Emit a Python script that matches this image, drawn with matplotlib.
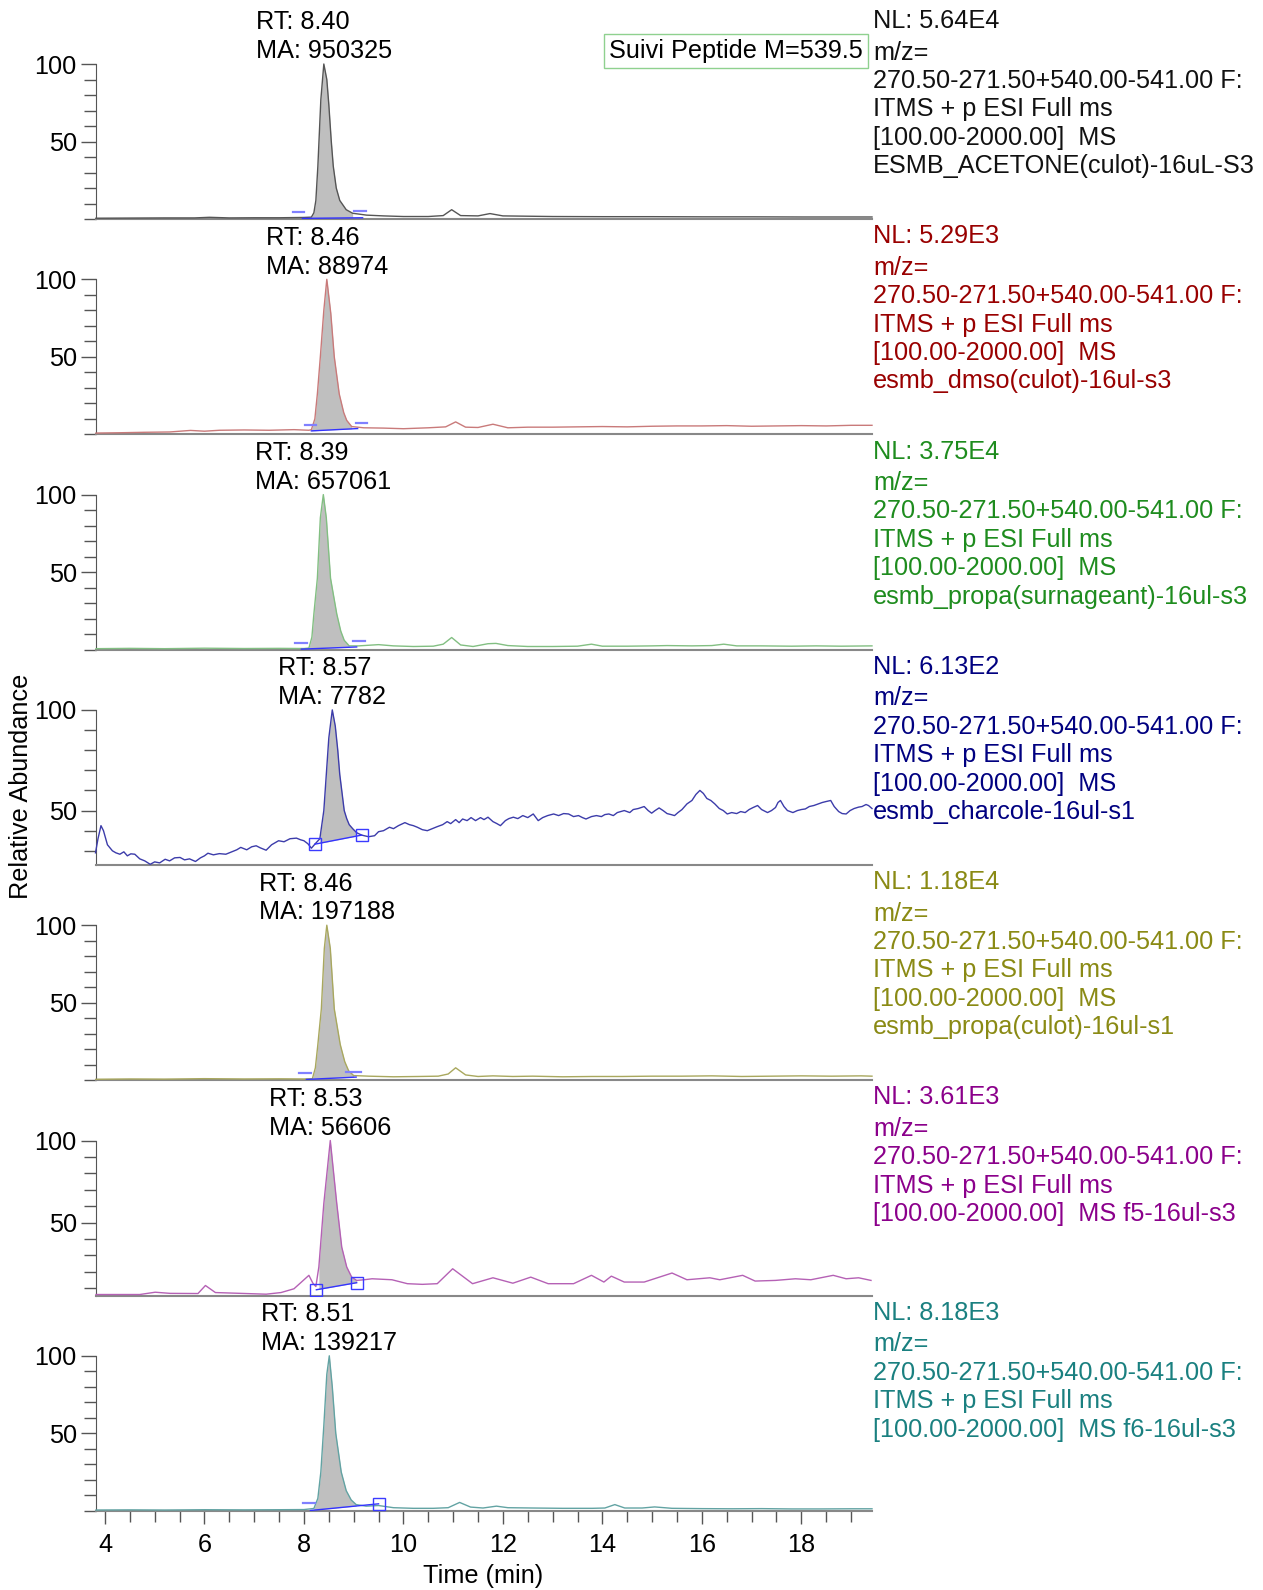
import numpy as np
import matplotlib.pyplot as plt
from matplotlib.ticker import MultipleLocator, FixedLocator

plt.rcParams['font.family'] = ['Liberation Sans', 'DejaVu Sans']

# peak info per trace
rt_values = [8.40, 8.46, 8.39, 8.57, 8.46, 8.53, 8.51]
ma_values = [950325, 88974, 657061, 7782, 197188, 56606, 139217]
nl_values = ['5.64E4', '5.29E3', '3.75E4', '6.13E2', '1.18E4', '3.61E3', '8.18E3']
samples = ['ESMB_ACETONE(culot)-16uL-S3', 'esmb_dmso(culot)-16ul-s3',
           'esmb_propa(surnageant)-16ul-s3', 'esmb_charcole-16ul-s1',
           'esmb_propa(culot)-16ul-s1', 'f5-16ul-s3', 'f6-16ul-s3']
same_line = [False, False, False, False, False, True, True]
header = ['m/z=', '270.50-271.50+540.00-541.00 F:', 'ITMS + p ESI Full ms',
          '[100.00-2000.00]  MS']

# traces (time in min, relative abundance)
t1 = [3.82, 4.5, 5.2, 5.8, 6.1, 6.5, 7.0, 7.5, 8.0, 8.15, 8.20, 8.24, 8.28, 8.34, 8.40,
      8.46, 8.50, 8.55, 8.59, 8.65, 8.72, 8.85, 8.98, 9.26, 9.6, 10.0, 10.5, 10.8, 10.97,
      11.15, 11.5, 11.74, 12.0, 12.5, 13.0, 14.0, 15.0, 16.0, 17.0, 18.0, 19.0, 19.42]
y1 = [0.5, 0.6, 0.7, 0.7, 1.1, 0.7, 0.8, 0.8, 1.0, 1.2, 4, 12, 34, 77, 100,
      90, 74, 50, 34, 20, 12, 6, 3.7, 2.5, 2.0, 1.6, 1.6, 2.2, 6.0,
      2.2, 2.0, 3.5, 2.0, 1.8, 1.6, 1.5, 1.5, 1.4, 1.4, 1.3, 1.3, 1.3]

t2 = [3.82, 4.3, 4.8, 5.3, 5.72, 6.0, 6.3, 6.8, 7.3, 7.8, 8.1, 8.15, 8.22, 8.27, 8.33,
      8.40, 8.46, 8.54, 8.61, 8.71, 8.80, 8.86, 8.96, 9.2, 9.6, 10.0, 10.5, 10.85, 11.05,
      11.25, 11.5, 11.8, 12.1, 12.5, 13, 13.5, 14, 14.5, 15, 15.5, 16, 16.5, 17, 17.5,
      18, 18.5, 19, 19.42]
y2 = [0.8, 1.0, 1.3, 1.5, 2.5, 2.0, 2.6, 2.8, 2.6, 3.0, 2.6, 3.0, 10, 26, 50,
      80, 100, 78, 50, 26, 14, 9, 5, 4.2, 4.0, 3.6, 4.2, 4.8, 8,
      4.6, 4.4, 6.5, 4.2, 4.6, 4.6, 4.8, 5.0, 4.8, 5.2, 5.4, 5.4, 5.6, 5.2, 5.4,
      5.6, 5.4, 5.8, 5.8]

t3 = [3.82, 4.5, 5.2, 6.0, 6.8, 7.5, 8.0, 8.10, 8.16, 8.20, 8.27, 8.33, 8.39, 8.45,
      8.535, 8.66, 8.74, 8.81, 8.91, 9.1, 9.5, 9.8, 10.2, 10.6, 10.8, 10.97, 11.15, 11.4,
      11.7, 11.86, 12.1, 12.5, 13.0, 13.5, 13.78, 14.0, 14.5, 15.0, 15.3, 15.8, 16.2,
      16.44, 16.7, 17.2, 17.8, 18.3, 18.8, 19.42]
y3 = [0.6, 0.8, 0.6, 0.9, 0.7, 0.8, 0.7, 1.0, 8, 23, 46, 85, 100, 85,
      46, 23, 12, 6, 2.4, 2.4, 3.2, 2.4, 2.0, 2.2, 3.5, 7.8, 3.0, 2.0,
      3.8, 4.0, 2.6, 2.0, 2.0, 2.2, 3.5, 2.2, 2.2, 2.4, 2.6, 2.4, 2.6,
      3.5, 2.4, 2.4, 2.2, 2.4, 2.2, 2.4]

t4 = [3.81, 3.86, 3.92, 3.97, 4.05, 4.15, 4.22, 4.30, 4.38, 4.45, 4.52, 4.60, 4.70, 4.80,
      4.91, 5.00, 5.10, 5.21, 5.30, 5.40, 5.51, 5.60, 5.70, 5.82, 5.92, 6.00, 6.07, 6.18,
      6.30, 6.43, 6.55, 6.65, 6.73, 6.85, 6.95, 7.04, 7.12, 7.24, 7.35, 7.49, 7.60, 7.72,
      7.85, 7.93, 8.00, 8.08, 8.15, 8.22, 8.32, 8.40, 8.45, 8.50, 8.57, 8.63, 8.68, 8.72,
      8.77, 8.81, 8.86, 8.91, 8.98, 9.06, 9.16, 9.21, 9.30, 9.42, 9.50, 9.60, 9.72, 9.80,
      9.90, 10.03, 10.12, 10.20, 10.28, 10.38, 10.48, 10.58, 10.68, 10.79, 10.88, 10.95,
      11.05, 11.12, 11.19, 11.28, 11.36, 11.45, 11.55, 11.62, 11.70, 11.80, 11.88, 11.95,
      12.05, 12.12, 12.21, 12.30, 12.40, 12.50, 12.61, 12.71, 12.80, 12.90, 13.02, 13.12,
      13.22, 13.32, 13.42, 13.52, 13.60, 13.67, 13.78, 13.88, 13.98, 14.05, 14.13, 14.22,
      14.30, 14.44, 14.55, 14.62, 14.72, 14.84, 14.92, 14.99, 15.06, 15.14, 15.22, 15.30,
      15.38, 15.45, 15.52, 15.60, 15.70, 15.80, 15.88, 15.96, 16.03, 16.10, 16.18, 16.26,
      16.35, 16.43, 16.51, 16.60, 16.70, 16.78, 16.87, 16.95, 17.03, 17.12, 17.20, 17.28,
      17.32, 17.40, 17.48, 17.53, 17.58, 17.65, 17.72, 17.83, 17.92, 18.00, 18.08, 18.16,
      18.25, 18.34, 18.42, 18.50, 18.59, 18.66, 18.75, 18.82, 18.90, 18.98, 19.06, 19.15,
      19.22, 19.30, 19.35, 19.42]
y4 = [29, 36, 42.5, 40, 33, 30, 29, 28.3, 29.5, 27.5, 28.5, 28.3, 26, 25,
      23.3, 24.5, 24, 25.8, 25, 26.5, 26.7, 25.5, 26, 24.7, 26.5, 27.5, 28.8, 28,
      28.6, 28.3, 29.5, 30.5, 31.7, 30.5, 32, 32.5, 31.5, 30.3, 33, 35, 34.5, 36,
      36.3, 35.5, 35, 33.5, 31.3, 33.3, 36, 50, 68, 86, 100, 92, 80, 68,
      58, 50, 46, 43, 41, 39, 37.8, 37.5, 37, 37.5, 39.5, 40, 41.7, 41,
      42.5, 44, 43, 42.5, 41.7, 40.5, 40, 41, 42, 43, 44.5, 43.5,
      45.5, 44, 45.8, 45, 46.5, 45, 46.5, 45.5, 46.7, 44.5, 43.5, 42.5,
      45, 46, 46.7, 46, 47.5, 46.5, 48.3, 45, 46.5, 47.5, 48.3, 47.5,
      48.5, 48.3, 47, 47.5, 46.5, 45.8, 47, 47.5, 47, 48, 48.3, 47.5,
      49, 50, 49, 50.5, 51, 52, 50, 48.7, 50, 51.3, 50, 48.5,
      48, 47.5, 49, 50.5, 53.3, 55, 58, 60, 58.5, 56, 55, 53.3,
      51, 50, 48.3, 49, 48.5, 49.5, 49, 50.5, 51.5, 52.5, 50.5, 49.5,
      49, 50, 51.5, 54, 55, 52, 50, 49, 50, 50.5, 50.8, 52,
      52.5, 53.3, 54, 54.5, 55, 52, 49.5, 48.5, 48.3, 50, 51, 51.7,
      52, 53, 52.5, 51]

t5 = [3.82, 4.5, 5.2, 6.0, 6.8, 7.5, 8.0, 8.17, 8.23, 8.28, 8.35, 8.41, 8.46, 8.53,
      8.61, 8.73, 8.82, 8.90, 9.0, 9.3, 9.8, 10.3, 10.7, 10.9, 11.05, 11.25, 11.5, 11.8,
      12.2, 12.6, 13.2, 13.8, 14.4, 15.0, 15.6, 16.2, 16.8, 17.4, 18.0, 18.6, 19.2, 19.42]
y5 = [0.6, 0.8, 0.7, 1.0, 0.8, 0.9, 0.8, 1.0, 8, 23, 46, 85, 100, 85,
      46, 23, 12, 6, 3, 2.6, 2.2, 2.4, 2.6, 4.0, 8.0, 3.4, 2.4, 2.8,
      2.4, 2.6, 2.2, 2.4, 2.4, 2.6, 2.6, 2.8, 2.4, 2.6, 2.8, 2.6, 2.8, 2.6]

t6 = [3.82, 4.70, 5.01, 5.31, 5.87, 6.02, 6.22, 6.73, 7.24, 7.54, 7.80, 8.10, 8.18, 8.24,
      8.30, 8.40, 8.53, 8.66, 8.76, 8.86, 8.96, 9.06, 9.21, 9.37, 9.77, 10.08, 10.38,
      10.68, 10.99, 11.39, 11.80, 12.20, 12.56, 12.91, 13.42, 13.78, 14.03, 14.18, 14.44,
      14.84, 15.40, 15.70, 16.16, 16.36, 16.82, 17.07, 17.48, 17.88, 18.19, 18.64, 18.90,
      19.15, 19.40]
y6 = [6.1, 6.1, 7.5, 6.8, 6.7, 11.6, 7.3, 6.8, 6.3, 7.3, 9.6, 17.8, 13, 11,
      22.9, 61.6, 100, 61.6, 35, 22.9, 16.7, 14.7, 15.1, 15.7, 15.1, 12.7, 12.3,
      12.7, 21.8, 12.7, 16.3, 13, 16.7, 12.7, 12.7, 17.8, 13.7, 17.3, 13.7,
      13.7, 19.2, 15.1, 16.3, 15.1, 17.8, 14.3, 14.7, 15.7, 15.1, 17.8, 15.7,
      16.3, 14.7]

t7 = [3.82, 4.5, 5.2, 6.0, 6.8, 7.5, 8.0, 8.2, 8.28, 8.34, 8.40, 8.46, 8.51, 8.57, 8.64,
      8.75, 8.85, 8.95, 9.05, 9.25, 9.5, 9.8, 10.2, 10.6, 10.9, 11.13, 11.35, 11.6, 11.87,
      12.1, 12.6, 13.2, 13.8, 14.05, 14.25, 14.45, 14.8, 15.05, 15.4, 16.0, 16.6, 17.2,
      17.8, 18.4, 19.0, 19.42]
y7 = [0.5, 0.6, 0.5, 0.7, 0.6, 0.7, 0.8, 1.5, 8, 25, 55, 88, 100, 80, 50,
      25, 13, 7, 4, 3, 3.4, 2.0, 1.6, 1.6, 2.0, 5.4, 2.4, 1.8, 3.0,
      2.0, 1.8, 1.6, 1.6, 1.8, 4.0, 1.8, 1.8, 2.5, 1.6, 1.4, 1.3, 1.4,
      1.2, 1.2, 1.3, 1.3]

times = [t1, t2, t3, t4, t5, t6, t7]
abund = [y1, y2, y3, y4, y5, y6, y7]
y_low = [0, 0, 0, 23, 0, 5.5, 0]

# integration baseline (start t, start y, end t, end y)
base_pts = [(7.97, 0.4, 9.18, 0.8), (8.15, 2.2, 9.08, 3.7), (7.95, 0.3, 9.06, 1.7),
            (8.22, 33.3, 9.16, 37.8), (8.05, 0.5, 9.05, 2.0), (8.25, 9.0, 9.06, 13.3),
            (8.13, 0.2, 9.5, 4.5)]
# boundary marks: (t0, t1, y) for dashes, (t, y) for squares
dashes = [[(7.79, 8.01, 4.5), (9.0, 9.25, 5.4)],
          [(8.03, 8.25, 6.0), (9.04, 9.26, 7.4)],
          [(7.82, 8.07, 4.3), (8.98, 9.22, 5.6)],
          [],
          [(7.9, 8.15, 4.5), (8.85, 9.15, 5.0)],
          [],
          [(7.98, 8.22, 5.2)]]
squares = [[], [], [], [(8.22, 33.3), (9.16, 37.8)], [], [(8.25, 9.0), (9.06, 13.3)],
           [(9.5, 4.5)]]

line_colors = ['#555555', '#c97a7a', '#82bf82', '#3c3caa', '#a9a85e', '#b561b5', '#62a3a3']
text_colors = ['#111111', '#990000', '#1e8c1e', '#000080', '#8a8a14', '#8b008b', '#1a8080']

W, H = 1263, 1590
fs = 18.2
fig = plt.figure(figsize=(W / 100, H / 100), dpi=100)

for k in range(7):
    top = 64 + k * 215.3
    ax = fig.add_axes([96 / W, 1 - (top + 155) / H, 776 / W, 155 / H])
    t = np.array(times[k])
    y = np.array(abund[k])

    s0, b0, s1, b1 = base_pts[k]
    base = np.interp(t, [s0, s1], [b0, b1])
    sel = (t >= s0) & (t <= s1)
    ax.fill_between(t[sel], base[sel], y[sel], where=y[sel] > base[sel],
                    color='#bfbfbf', lw=0, zorder=1)
    ax.plot(t, y, color=line_colors[k], lw=1.0, zorder=3, clip_on=False)
    ax.plot([s0, s1], [b0, b1], color='#3333ff', lw=1.0, zorder=4)
    for d in dashes[k]:
        ax.plot([d[0], d[1]], [d[2], d[2]], color='#8080ff', lw=1.6, zorder=4)
    for sq in squares[k]:
        ax.plot(sq[0], sq[1], 's', ms=8, mfc='none', mec='#3b3bff', mew=1.0, zorder=5)

    ax.set_xlim(3.82, 19.42)
    ax.set_ylim(y_low[k], 100)
    ax.spines['top'].set_visible(False)
    ax.spines['right'].set_visible(False)
    ax.spines['left'].set_color('#555555')
    ax.spines['bottom'].set_color('#888888')
    ax.spines['bottom'].set_linewidth(1.5)
    ax.yaxis.set_major_locator(FixedLocator([50, 100]))
    ax.yaxis.set_minor_locator(MultipleLocator(10))
    ax.tick_params(axis='y', which='major', length=10.8, width=1, color='#555555',
                   pad=3, labelsize=fs)
    ax.tick_params(axis='y', which='minor', length=8.4, width=1, color='#555555')
    if k < 6:
        ax.set_xticks([])
    else:
        ax.xaxis.set_major_locator(MultipleLocator(2))
        ax.xaxis.set_minor_locator(MultipleLocator(0.5))
        ax.tick_params(axis='x', which='major', length=9, width=1, color='#555555',
                       pad=7, labelsize=fs)
        ax.tick_params(axis='x', which='minor', length=8, width=1, color='#555555')

    # peak labels
    ma = ax.annotate('MA: %d' % ma_values[k], xy=(rt_values[k], 100), xytext=(0, 9.2),
                     textcoords='offset points', ha='center', va='center', fontsize=fs,
                     annotation_clip=False)
    ax.annotate('RT: %.2f' % rt_values[k], xy=(0, 0.5), xycoords=ma, xytext=(0, 20.8),
                textcoords='offset points', ha='left', va='center', fontsize=fs)

    # info text on the right
    lines = ['NL: ' + nl_values[k]] + header[:3]
    if same_line[k]:
        lines.append(header[3] + ' ' + samples[k])
    else:
        lines += [header[3], samples[k]]
    fig.text(873 / W, 1 - (top - 43) / H, lines[0], color=text_colors[k], fontsize=fs,
             va='center', ha='left')
    for i, ln in enumerate(lines[1:]):
        fig.text(873 / W, 1 - (top - 11.5 + i * 28.4) / H, ln, color=text_colors[k],
                 fontsize=fs, va='center', ha='left')

fig.text(609 / W, 1 - 51 / H, 'Suivi Peptide M=539.5', fontsize=fs, va='center',
         ha='left', bbox=dict(boxstyle='square,pad=0.2', fc='white', ec='#8fd18f', lw=1))
fig.text(21 / W, 1 - 786 / H, 'Relative Abundance', rotation=90, fontsize=fs,
         va='center', ha='center')
fig.text(483 / W, 1 - 1576 / H, 'Time (min)', fontsize=fs, va='center', ha='center')

fig.savefig('out.png', dpi=100)
